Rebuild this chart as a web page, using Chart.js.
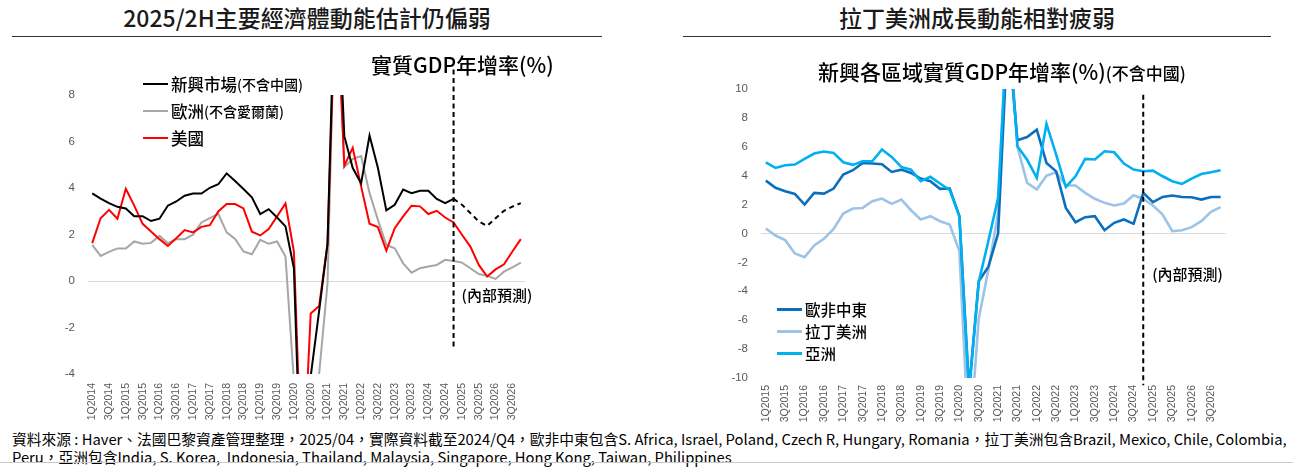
<!DOCTYPE html>
<html lang="zh-Hant">
<head>
    <meta charset="UTF-8">
    <title>新興市場GDP年增率</title>
    <script src="https://cdn.jsdelivr.net/npm/chart.js"></script>
    <style>
        body {
            margin: 0;
            width: 1293px;
            height: 467px;
            background: #fff;
            position: relative;
            overflow: hidden;
            font-family: "Noto Sans CJK TC", "Noto Sans", sans-serif;
            color: #000;
        }
        canvas {
            position: absolute;
            top: 0;
        }
        #chartL { left: 0; }
        #chartR { left: 640px; }
        .title {
            position: absolute;
            top: 2px;
            font-size: 23px;
            font-weight: 500;
            line-height: 30px;
            text-align: center;
            color: #1a1a1a;
        }
        .rule {
            position: absolute;
            top: 36px;
            height: 0;
            border-top: 1px solid #333;
        }
        .sub {
            position: absolute;
            font-size: 21px;
            font-weight: 500;
            line-height: 26px;
            white-space: nowrap;
        }
        .sub small { font-size: 17px; }
        .legend {
            position: absolute;
            white-space: nowrap;
            font-weight: 500;
        }
        .legend div {
            display: flex;
            align-items: center;
        }
        .legend span.key {
            display: inline-block;
            margin-right: 3px;
        }
        .legend small { font-size: 14px; }
        #note {
            position: absolute;
            left: 12px;
            top: 430px;
            font-size: 14.75px;
            line-height: 18px;
            white-space: nowrap;
        }
        #bottomRule {
            position: absolute;
            left: 0;
            width: 1293px;
            top: 462px;
            border-top: 1px solid #c8c8c8;
        }
    </style>
</head>
<body>
    <div class="title" style="left:12px;width:590px">2025/2H主要經濟體動能估計仍偏弱</div>
    <div class="rule" style="left:12px;width:590px"></div>
    <div class="title" style="left:683px;width:588px">拉丁美洲成長動能相對疲弱</div>
    <div class="rule" style="left:683px;width:588px"></div>

    <canvas id="chartL" width="600" height="428"></canvas>
    <canvas id="chartR" width="653" height="428"></canvas>

    <div class="sub" style="left:371px;top:51px">實質GDP年增率(%)</div>
    <div class="sub" style="left:818px;top:58px">新興各區域實質GDP年增率(%)<small>(不含中國)</small></div>

    <div class="legend" id="legendL" style="left:143px;top:70px"></div>
    <div class="legend" id="legendR" style="left:777px;top:298px"></div>

    <div id="note">資料來源 : Haver、法國巴黎資產管理整理，2025/04，實際資料截至2024/Q4，歐非中東包含S. Africa, Israel, Poland, Czech R, Hungary, Romania，拉丁美洲包含Brazil, Mexico, Chile, Colombia,<br>Peru，亞洲包含India, S. Korea,&nbsp; Indonesia, Thailand, Malaysia, Singapore, Hong Kong, Taiwan, Philippines</div>
    <div id="bottomRule"></div>

    <script>
        // 左圖: 1Q2014 - 4Q2026
        const quartersL = [
            '1Q2014', '2Q2014', '3Q2014', '4Q2014', '1Q2015', '2Q2015', '3Q2015', '4Q2015',
            '1Q2016', '2Q2016', '3Q2016', '4Q2016', '1Q2017', '2Q2017', '3Q2017', '4Q2017',
            '1Q2018', '2Q2018', '3Q2018', '4Q2018', '1Q2019', '2Q2019', '3Q2019', '4Q2019',
            '1Q2020', '2Q2020', '3Q2020', '4Q2020', '1Q2021', '2Q2021', '3Q2021', '4Q2021',
            '1Q2022', '2Q2022', '3Q2022', '4Q2022', '1Q2023', '2Q2023', '3Q2023', '4Q2023',
            '1Q2024', '2Q2024', '3Q2024', '4Q2024', '1Q2025', '2Q2025', '3Q2025', '4Q2025',
            '1Q2026', '2Q2026', '3Q2026', '4Q2026'
        ];
        const emExChina = [
            3.77, 3.54, 3.35, 3.19, 3.12, 2.79, 2.79, 2.58, 2.68, 3.24, 3.42, 3.67, 3.76,
            3.76, 4.01, 4.16, 4.63, 4.30, 3.96, 3.60, 2.88, 3.09, 2.73, 2.35, 0.55, -10.5,
            -4.1, -1.3, 1.6, 14.5, 6.23, 4.86, 4.20, 6.26, 4.86, 3.04, 3.28, 3.93, 3.78,
            3.88, 3.88, 3.53, 3.35, 3.53, 3.28, 2.92, 2.56, 2.37, 2.70, 3.02, 3.20, 3.35
        ];
        const europeExIreland = [
            1.55, 1.08, 1.25, 1.40, 1.40, 1.70, 1.60, 1.64, 1.94, 1.63, 1.80, 1.80, 1.99,
            2.52, 2.70, 2.89, 2.09, 1.81, 1.27, 1.15, 1.77, 1.60, 1.70, 1.05, -4.3, -14,
            -4.6, -4.0, -0.1, 14, 4.90, 5.25, 5.37, 3.78, 2.63, 1.55, 1.41, 0.76, 0.36,
            0.55, 0.62, 0.69, 0.91, 0.86, 0.79, 0.55, 0.30, 0.22, 0.09, 0.40, 0.59, 0.79
        ];
        const usa = [
            1.63, 2.70, 3.06, 2.68, 3.97, 3.24, 2.46, 2.13, 1.80, 1.51, 1.84, 2.19, 2.09,
            2.33, 2.40, 2.99, 3.31, 3.31, 3.12, 2.12, 1.96, 2.23, 2.78, 3.34, 1.27, -9.1,
            -1.4, -1.08, 1.6, 13, 4.96, 5.73, 4.07, 2.46, 2.32, 1.31, 2.27, 2.78, 3.24,
            3.21, 2.88, 3.02, 2.73, 2.52, 1.99, 1.48, 0.69, 0.19, 0.50, 0.72, 1.27, 1.80
        ];
        const lastActualL = 43; // 4Q2024

        // 右圖: 1Q2015 - 4Q2026
        const quartersR = quartersL.slice(4);
        const emea = [
            3.66, 3.16, 2.93, 2.74, 2.00, 2.81, 2.76, 3.11, 4.08, 4.38, 4.88, 4.84,
            4.79, 4.26, 4.42, 4.19, 3.80, 3.62, 3.09, 3.11, 1.20, -10.8, -3.3, -2.3,
            0.0, 14, 6.45, 6.68, 7.19, 4.88, 4.30, 1.77, 0.78, 1.13, 1.20, 0.23,
            0.74, 0.97, 0.67, 2.81, 2.17, 2.53, 2.63, 2.53, 2.51, 2.35, 2.53, 2.53
        ];
        const latam = [
            0.35, -0.14, -0.46, -1.38, -1.64, -0.83, -0.37, 0.32, 1.38, 1.73, 1.77, 2.24,
            2.42, 2.05, 2.35, 1.61, 0.97, 1.20, 0.85, 0.62, -1.22, -15, -5.9, -2.5,
            1.4, 16, 6.0, 3.5, 3.04, 4.00, 4.24, 3.32, 3.32, 2.81, 2.40, 2.12,
            1.94, 2.07, 2.65, 2.40, 1.94, 1.31, 0.16, 0.23, 0.44, 0.85, 1.50, 1.82
        ];
        const asia = [
            4.93, 4.54, 4.72, 4.77, 5.16, 5.53, 5.67, 5.58, 4.93, 4.75, 5.00, 5.00,
            5.81, 5.30, 4.61, 4.42, 3.62, 3.92, 3.46, 3.00, 1.20, -11, -3.36, -0.5,
            2.45, 15, 6.04, 5.10, 3.85, 7.58, 5.46, 3.23, 3.96, 5.16, 5.12, 5.69,
            5.62, 4.84, 4.42, 4.31, 4.35, 3.96, 3.62, 3.43, 3.80, 4.12, 4.24, 4.38
        ];
        const lastActualR = 39; // 4Q2024

        const seriesL = [
            { name: '新興市場', note: '(不含中國)', data: emExChina, color: '#000000' },
            { name: '歐洲', note: '(不含愛爾蘭)', data: europeExIreland, color: '#a6a6a6' },
            { name: '美國', note: '', data: usa, color: '#ff0000' }
        ];
        const seriesR = [
            { name: '歐非中東', data: emea, color: '#0b6fbd' },
            { name: '拉丁美洲', data: latam, color: '#9dc3e6' },
            { name: '亞洲', data: asia, color: '#00b0f0' }
        ];

        const tickColor = '#595959';
        const tickFont = { family: '"Liberation Sans Narrow", "Liberation Sans", sans-serif', size: 10.5 };

        // 預測分隔虛線 + 標註
        const forecastLine = {
            id: 'forecastLine',
            afterDatasetsDraw(chart, args, opts) {
                const ctx = chart.ctx;
                const x = chart.scales.x.getPixelForValue(opts.index);
                const y = chart.scales.y;
                ctx.save();
                ctx.strokeStyle = '#000';
                ctx.lineWidth = 2;
                ctx.setLineDash([5, 3.5]);
                ctx.beginPath();
                ctx.moveTo(x, y.getPixelForValue(opts.from));
                ctx.lineTo(x, y.getPixelForValue(opts.to));
                ctx.stroke();
                ctx.setLineDash([]);
                ctx.fillStyle = '#000';
                ctx.font = '500 15px "Noto Sans CJK TC", sans-serif';
                ctx.textBaseline = 'middle';
                ctx.fillText('(內部預測)', x + opts.dx, y.getPixelForValue(opts.textAt));
                ctx.restore();
            }
        };

        function makeChart(id, labels, series, opts) {
            return new Chart(document.getElementById(id), {
                type: 'line',
                data: {
                    labels: labels,
                    datasets: series.map((s, i) => ({
                        label: s.name,
                        data: s.data,
                        borderColor: s.color,
                        borderWidth: opts.lineWidth,
                        pointRadius: 0,
                        tension: 0,
                        fill: false,
                        order: opts.order[i],
                        segment: (opts.dashFirst && i === 0) ? {
                            borderDash: c => c.p0DataIndex >= opts.lastActual ? [5, 4] : undefined
                        } : undefined
                    }))
                },
                options: {
                    responsive: false,
                    animation: false,
                    devicePixelRatio: 1,
                    layout: { padding: { left: 0, right: opts.padRight, top: opts.padTop, bottom: 0 } },
                    plugins: {
                        legend: { display: false },
                        tooltip: { enabled: false },
                        forecastLine: opts.forecast
                    },
                    scales: {
                        x: {
                            offset: true,
                            grid: { display: false, drawTicks: false },
                            border: { display: false },
                            ticks: {
                                autoSkip: false,
                                maxRotation: 90,
                                minRotation: 90,
                                padding: opts.xPad,
                                color: tickColor,
                                font: tickFont,
                                callback: (v, i) => i % 2 === 0 ? labels[i] : ''
                            },
                            afterFit: s => { s.height = opts.xHeight; }
                        },
                        y: {
                            min: opts.min,
                            max: opts.max,
                            border: { display: false },
                            grid: {
                                drawTicks: false,
                                color: c => c.tick.value === 0 ? '#d9d9d9' : 'rgba(0,0,0,0)'
                            },
                            ticks: { stepSize: 2, padding: 13, color: tickColor, font: { family: tickFont.family, size: 11.5 } },
                            afterFit: s => { s.width = opts.yWidth; }
                        }
                    }
                },
                plugins: [forecastLine]
            });
        }

        makeChart('chartL', quartersL, seriesL, {
            min: -4, max: 8, lineWidth: 2, padRight: 75, padTop: 95,
            xHeight: 54, xPad: 9, yWidth: 88, order: [0, 2, 1],
            dashFirst: true, lastActual: lastActualL,
            forecast: { index: lastActualL, from: 9.1, to: -2.9, textAt: -0.6, dx: 8 }
        });

        makeChart('chartR', quartersR, seriesR, {
            min: -10, max: 10, lineWidth: 2.6, padRight: 67.5, padTop: 89,
            xHeight: 50, xPad: 7, yWidth: 121, order: [1, 2, 0],
            dashFirst: false, lastActual: lastActualR,
            forecast: { index: lastActualR, from: 9.6, to: -10.5, textAt: -2.84, dx: 9 }
        });

        // 圖例
        function buildLegend(id, series, opts) {
            const box = document.getElementById(id);
            series.forEach(s => {
                const row = document.createElement('div');
                row.style.height = opts.rowHeight + 'px';
                row.style.fontSize = opts.fontSize + 'px';
                const key = document.createElement('span');
                key.className = 'key';
                key.style.width = opts.keyWidth + 'px';
                key.style.borderTop = opts.keyLine + 'px solid ' + s.color;
                row.appendChild(key);
                const txt = document.createElement('span');
                txt.textContent = s.name;
                row.appendChild(txt);
                if (s.note) {
                    const sm = document.createElement('small');
                    sm.textContent = s.note;
                    row.appendChild(sm);
                }
                box.appendChild(row);
            });
        }
        buildLegend('legendL', seriesL, { rowHeight: 27, fontSize: 16.5, keyWidth: 25, keyLine: 2 });
        buildLegend('legendR', seriesR, { rowHeight: 22, fontSize: 15.5, keyWidth: 25, keyLine: 3 });
    </script>
</body>
</html>
